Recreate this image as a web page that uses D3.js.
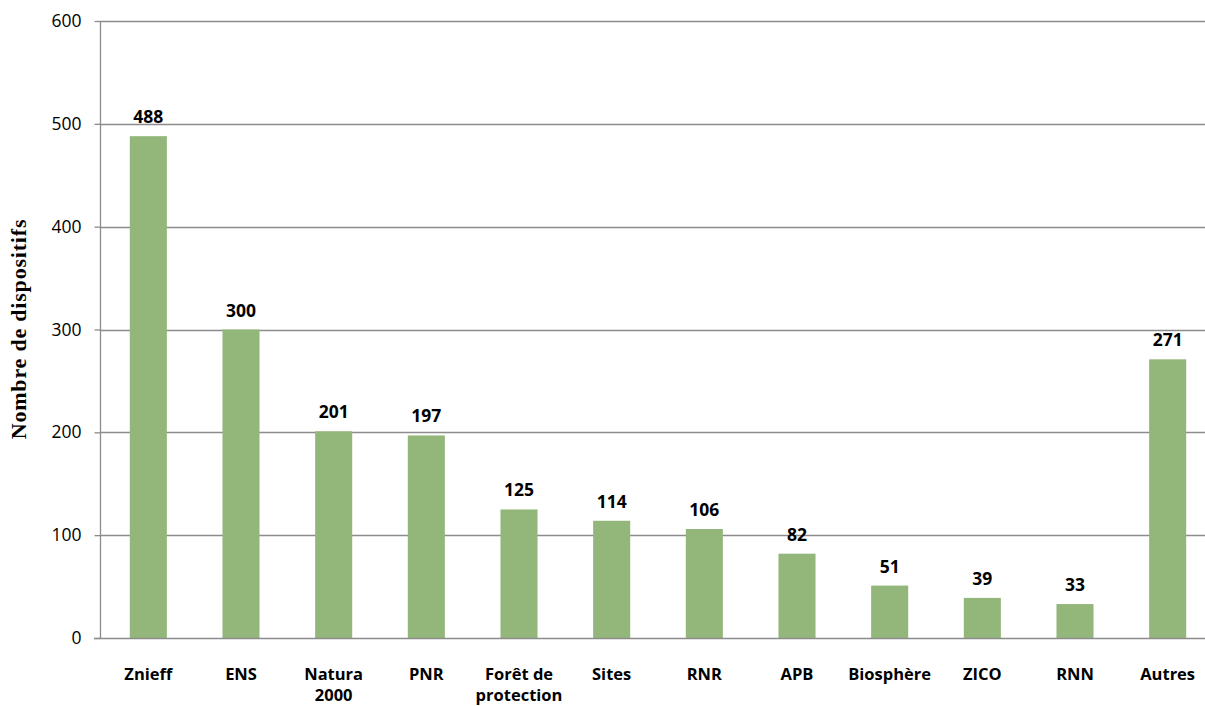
<!DOCTYPE html>
<html>
<head>
<meta charset="utf-8">
<script src="https://cdn.jsdelivr.net/npm/d3@7"></script>
<style>
    body { margin: 0; background: #fff; }
    svg { display: block; }
    .tick text { font-family: "Open Sans", sans-serif; }
</style>
</head>
<body>
<div id="chart"></div>
<script>
// DATA
var categories = ["Znieff", "ENS", "Natura\n2000", "PNR", "Forêt de\nprotection", "Sites",
    "RNR", "APB", "Biosphère", "ZICO", "RNN", "Autres"];
var counts = [488, 300, 201, 197, 125, 114, 106, 82, 51, 39, 33, 271];
var yTicks = [0, 100, 200, 300, 400, 500, 600];
var yTitle = "Nombre de dispositifs";

var width = 1205,
    height = 706;

var svg = d3.select("#chart")
    .append("svg")
    .attr("width", width)
    .attr("height", height);

var xScale = d3.scaleBand()
    .domain(categories)
    .range([102, 1214])
    .paddingInner(0.6)
    .paddingOuter(0.3);

var yScale = d3.scaleLinear()
    .domain([0, 600])
    .range([638, 21]);

var gridColor = "#8c8c8c";

// Gridlines (behind bars)
svg.append("g")
    .selectAll("line")
    .data(yTicks.filter(d => d > 0))
    .enter()
    .append("line")
    .attr("x1", 100)
    .attr("x2", width)
    .attr("y1", d => Math.round(yScale(d)) + 0.5)
    .attr("y2", d => Math.round(yScale(d)) + 0.5)
    .style("stroke", gridColor)
    .style("stroke-width", 1.3);

// Bars
svg.append("g")
    .selectAll("rect")
    .data(counts)
    .enter()
    .append("rect")
    .attr("x", (d, i) => xScale(categories[i]))
    .attr("width", xScale.bandwidth())
    .attr("y", d => yScale(d))
    .attr("height", d => yScale(0) - yScale(d))
    .style("fill", "#93b77a");

// Value labels
svg.append("g")
    .selectAll("text")
    .data(counts)
    .enter()
    .append("text")
    .attr("x", (d, i) => xScale(categories[i]) + xScale.bandwidth() / 2)
    .attr("y", d => yScale(d) - 13)
    .attr("text-anchor", "middle")
    .style("font-family", "'Open Sans', sans-serif")
    .style("font-weight", "bold")
    .style("font-size", "17.5px")
    .style("fill", "#000")
    .text(d => d);

// Y axis
var yAxis = d3.axisLeft(yScale)
    .tickValues(yTicks)
    .tickSize(6)
    .tickPadding(13)
    .tickFormat(d3.format("d"));

var yG = svg.append("g")
    .attr("transform", "translate(100.5, 0)")
    .call(yAxis);
yG.select(".domain").style("stroke", gridColor).style("stroke-width", 1.3)
    .attr("d", "M0," + yScale(600) + "V" + yScale(0));
yG.selectAll(".tick line").style("stroke", gridColor).style("stroke-width", 1.3);
yG.selectAll(".tick text")
    .style("font-size", "17.5px")
    .style("fill", "#000");

// X baseline
svg.append("line")
    .attr("x1", 94)
    .attr("x2", width)
    .attr("y1", Math.round(yScale(0)) + 0.5)
    .attr("y2", Math.round(yScale(0)) + 0.5)
    .style("stroke", gridColor)
    .style("stroke-width", 1.3);

// Category labels
var catG = svg.append("g")
    .selectAll("text")
    .data(categories)
    .enter()
    .append("text")
    .attr("x", d => xScale(d) + xScale.bandwidth() / 2)
    .attr("y", 680)
    .attr("text-anchor", "middle")
    .style("font-family", "'Open Sans', sans-serif")
    .style("font-weight", "bold")
    .style("font-size", "16.5px")
    .style("fill", "#000");

catG.selectAll("tspan")
    .data(d => d.split("\n"))
    .enter()
    .append("tspan")
    .attr("x", function () { return d3.select(this.parentNode).attr("x"); })
    .attr("dy", (d, i) => i === 0 ? 0 : 21)
    .text(d => d);

// Y title
svg.append("text")
    .attr("transform", "translate(26, 329)rotate(-90)")
    .attr("text-anchor", "middle")
    .style("font-family", "'Liberation Serif', 'Times New Roman', serif")
    .style("font-weight", "bold")
    .style("font-size", "22px")
    .style("letter-spacing", "0.8px")
    .style("fill", "#000")
    .text(yTitle);
</script>
</body>
</html>
